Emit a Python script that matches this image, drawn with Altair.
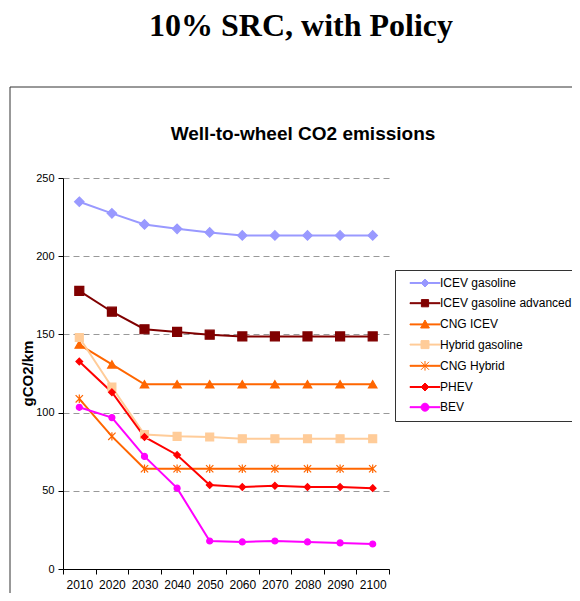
import altair as alt
import pandas as pd

years = ["2010", "2020", "2030", "2040", "2050", "2060", "2070", "2080", "2090", "2100"]
series_names = ["ICEV gasoline", "ICEV gasoline advanced", "CNG ICEV", "Hybrid gasoline",
                "CNG Hybrid", "PHEV", "BEV"]
icev_gasoline = [234.8, 227.4, 220.3, 217.5, 215.2, 213.3, 213.3, 213.3, 213.3, 213.3]
icev_gasoline_adv = [177.8, 164.5, 153.3, 151.6, 149.8, 148.7, 148.7, 148.7, 148.7, 148.7]
cng_icev = [143.5, 130.8, 118.1, 118.1, 118.1, 118.1, 118.1, 118.1, 118.1, 118.1]
hybrid_gasoline = [148.0, 116.4, 86.0, 84.8, 84.4, 83.3, 83.3, 83.3, 83.3, 83.3]
cng_hybrid = [108.8, 84.8, 64.1, 64.1, 64.1, 64.1, 64.1, 64.1, 64.1, 64.1]
phev = [132.7, 113.0, 84.4, 72.9, 53.7, 52.4, 53.2, 52.4, 52.4, 51.7]
bev = [103.4, 96.8, 72.0, 51.7, 17.9, 17.3, 17.9, 17.3, 16.7, 16.0]
y_ticks = [0, 50, 100, 150, 200, 250]

colors = ["#9999FF", "#800000", "#FF6600", "#FFCC99", "#FF6600", "#FF0000", "#FF00FF"]
DIAMOND = "M0,-1L1,0L0,1L-1,0Z"
ASTER = "M-1,-1L1,1M-1,1L1,-1M0,-1.15L0,1.15"
shapes = [DIAMOND, "square", "triangle-up", "square", ASTER, DIAMOND, "circle"]
sizes = [90, 36, 75, 52, 70, 90, 50]

LINE = "M-3.75,-0.12H3.75V0.12H-3.75Z"
legend_shapes = [
    LINE + "M0,-1L1,0L0,1L-1,0Z",
    LINE + "M-0.9,-0.9H0.9V0.9H-0.9Z",
    LINE + "M0,-1.1L1.1,0.9H-1.1Z",
    LINE + "M-1,-1H1V1H-1Z",
    LINE + "M-1,-1L1,1M-1,1L1,-1M0,-1.2L0,1.2",
    LINE + "M0,-1L1,0L0,1L-1,0Z",
    LINE + "M1,0A1,1 0 1,1 -1,0A1,1 0 1,1 1,0Z",
]

all_values = [icev_gasoline, icev_gasoline_adv, cng_icev, hybrid_gasoline, cng_hybrid, phev, bev]
rows = []
for name, vals in zip(series_names, all_values):
    for yr, v in zip(years, vals):
        rows.append({"year": yr, "value": v, "series": name})
df = pd.DataFrame(rows)

FONT = "Liberation Sans"

x_enc = alt.X("year:O", sort=years, title=None,
              scale=alt.Scale(paddingInner=0, paddingOuter=0),
              axis=alt.Axis(labelAngle=0, tickBand="extent", labelFontSize=12,
                            labelFont=FONT, labelColor="black", domainColor="black",
                            tickColor="black", tickSize=5, labelPadding=5))
y_enc = alt.Y("value:Q", title="gCO2/km",
              scale=alt.Scale(domain=[0, 250], nice=False, zero=True),
              axis=alt.Axis(values=y_ticks, labelFontSize=11, labelFont=FONT,
                            labelColor="black", domainColor="black", tickColor="black",
                            tickSize=5, labelPadding=4, grid=True, gridColor="#999999",
                            gridDash=[6, 4], titleFont=FONT, titleFontSize=15,
                            titleFontWeight="bold", titleColor="black", titleX=-36,
                            titleY=195, titleBaseline="middle", titleAngle=270))

sdom = dict(domain=series_names)

lines = alt.Chart(df).mark_line(strokeWidth=2).encode(
    x=x_enc, y=y_enc,
    color=alt.Color("series:N", scale=alt.Scale(range=colors, **sdom), legend=None),
    detail="series:N",
)

points = alt.Chart(df).mark_point(filled=True, opacity=1, strokeWidth=1.2).encode(
    x=alt.X("year:O", sort=years),
    y="value:Q",
    fill=alt.Fill("series:N", scale=alt.Scale(range=colors, **sdom), legend=None),
    stroke=alt.Stroke("series:N", scale=alt.Scale(range=colors, **sdom), legend=None),
    shape=alt.Shape("series:N", scale=alt.Scale(range=shapes, **sdom), legend=None),
    size=alt.Size("series:N", scale=alt.Scale(range=sizes, **sdom), legend=None),
)

legend_kw = dict(orient="none", legendX=332, legendY=92, title=None,
                 strokeColor="#333333", fillColor="white", padding=7,
                 symbolSize=64, symbolOffset=17, labelOffset=9,
                 labelFont=FONT, labelFontSize=12, labelColor="black",
                 rowPadding=8.2, symbolStrokeWidth=1, labelLimit=300)

legend_layer = alt.Chart(df).transform_filter("false").mark_point(filled=True, opacity=1).encode(
    x=alt.X("year:O", sort=years),
    y="value:Q",
    fill=alt.Fill("series:N", scale=alt.Scale(range=colors, **sdom), legend=alt.Legend(**legend_kw)),
    stroke=alt.Stroke("series:N", scale=alt.Scale(range=colors, **sdom), legend=alt.Legend(**legend_kw)),
    shape=alt.Shape("series:N", scale=alt.Scale(range=legend_shapes, **sdom), legend=alt.Legend(**legend_kw)),
)

one = pd.DataFrame({"t": ["10% SRC, with Policy"], "s": ["Well-to-wheel CO2 emissions"]})

border = alt.Chart(one).mark_rect(fill=None, stroke="#333333", strokeWidth=1).encode(
    x=alt.value(-53), x2=alt.value(700), y=alt.value(-91), y2=alt.value(500))

main_title = alt.Chart(one).mark_text(
    font="Liberation Serif", fontSize=32, fontWeight="bold", color="black",
    align="center", baseline="alphabetic").encode(
    x=alt.value(238), y=alt.value(-142), text="t:N")

sub_title = alt.Chart(one).mark_text(
    font=FONT, fontSize=19, fontWeight="bold", color="black",
    align="center", baseline="alphabetic").encode(
    x=alt.value(240), y=alt.value(-38), text="s:N")

chart = alt.layer(border, lines, points, legend_layer, main_title, sub_title).resolve_scale(
    color="independent", fill="independent", stroke="independent",
    shape="independent", size="independent",
).properties(
    width=326, height=391,
    autosize=alt.AutoSizeParams(type="none"),
    padding={"left": 55, "top": 170, "right": 183, "bottom": 24},
    background="white",
).configure_view(stroke=None)

chart.save("out.html", embed_options={"renderer": "svg", "actions": False})
